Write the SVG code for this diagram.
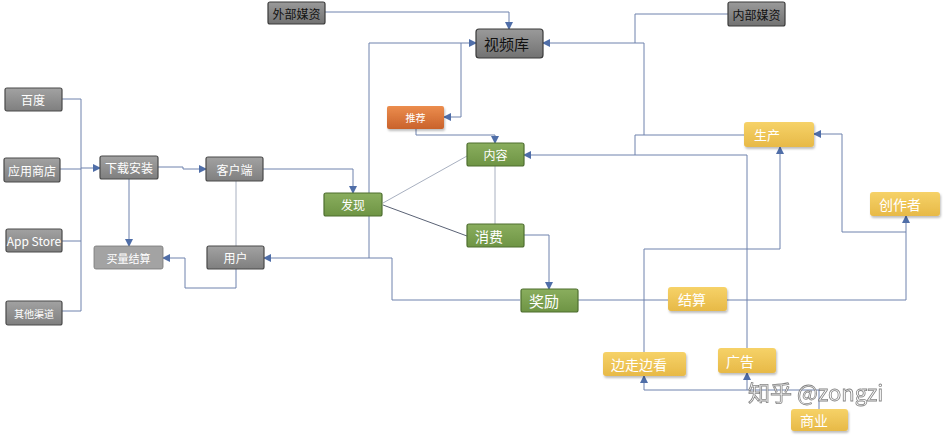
<svg xmlns="http://www.w3.org/2000/svg" width="945" height="442" viewBox="0 0 945 442">
<defs>
<linearGradient id="gGray" x1="0" y1="0" x2="0" y2="1"><stop offset="0" stop-color="#a2a2a2"/><stop offset="1" stop-color="#7f7f7f"/></linearGradient>
<linearGradient id="gDark" x1="0" y1="0" x2="0" y2="1"><stop offset="0" stop-color="#9a9a9a"/><stop offset="1" stop-color="#727272"/></linearGradient>
<linearGradient id="gGreen" x1="0" y1="0" x2="0" y2="1"><stop offset="0" stop-color="#8aae5e"/><stop offset="1" stop-color="#6e9444"/></linearGradient>
<linearGradient id="gYellow" x1="0" y1="0" x2="0" y2="1"><stop offset="0" stop-color="#f6d268"/><stop offset="1" stop-color="#e7b947"/></linearGradient>
<linearGradient id="gOrange" x1="0" y1="0" x2="0" y2="1"><stop offset="0" stop-color="#ec8d4e"/><stop offset="1" stop-color="#c9622b"/></linearGradient>
<marker id="arr" markerWidth="8" markerHeight="8" refX="7" refY="4" orient="auto" markerUnits="userSpaceOnUse"><path d="M0,0 L8,4 L0,8 z" fill="#4f6ea8"/></marker>
<filter id="sh" x="-10%" y="-10%" width="130%" height="140%"><feDropShadow dx="1" dy="2" stdDeviation="1.2" flood-color="#000" flood-opacity="0.25"/></filter>
</defs>
<style>
.gray rect{fill:url(#gGray);stroke:#4a4a4a;stroke-width:1.2}
.light rect{fill:#a3a3a3;stroke:#777;stroke-width:0.8}
.dark rect{fill:url(#gDark);stroke:#3a3a3a;stroke-width:1.2}
.green rect{fill:url(#gGreen);stroke:#4e6f2f;stroke-width:1.2}
.yellow rect{fill:url(#gYellow);filter:url(#sh)}
.orange rect{fill:url(#gOrange);filter:url(#sh)}
text{font-family:"Noto Sans CJK SC","Liberation Sans",sans-serif;fill:#fff;dominant-baseline:central}
.c{text-anchor:middle}
.blk{fill:#111}
.ln{fill:none;stroke:#6e82ad;stroke-width:1}
.lg{fill:none;stroke:#a8b0c0;stroke-width:1}
.ld{fill:none;stroke:#5a6275;stroke-width:1}
.a{marker-end:url(#arr)}
</style>
<g id="connectors">
<path class="ln" d="M62,99 H81 V311 H62"/>
<path class="ln" d="M60,169 H81"/>
<path class="ln" d="M62,241 H81"/>
<path class="ln a" d="M81,168 H100"/>
<path class="ln a" d="M158,167 H183 V169 H206"/>
<path class="ln a" d="M129,179 V246"/>
<path class="lg" d="M236,181 V246"/>
<path class="ln a" d="M236,269 V288 H185 V258 H163"/>
<path class="ln a" d="M263,169 H353 V193"/>
<path class="ln a" d="M520,300 H392 V258 H264"/>
<path class="ln a" d="M369,258 V43 H476"/>
<path class="ln a" d="M325,12 H509 V29"/>
<path class="ln a" d="M461,43 V117 H444"/>
<path class="ln a" d="M416,129 V135 H495 V143"/>
<path class="lg" d="M383,203 L467,156"/>
<path class="ld" d="M383,205 L467,236"/>
<path class="lg" d="M495,166 V224"/>
<path class="ln a" d="M524,235 H549 V289"/>
<path class="ln" d="M728,14 H635 V43"/>
<path class="ln a" d="M644,43 H543"/>
<path class="ln" d="M745,135 H644 V43"/>
<path class="ln" d="M644,135 H635 V155"/>
<path class="ln a" d="M747,348 V155 H524"/>
<path class="ln" d="M644,352 V249 H780"/>
<path class="ln a" d="M780,249 V147"/>
<path class="ln" d="M578,300 H668"/>
<path class="ln a" d="M727,300 H906 V216"/>
<path class="ln a" d="M906,232 H842 V134 H814"/>
<path class="ln" d="M819,409 V390 H644"/>
<path class="ln a" d="M644,390 V376"/>
<path class="ln a" d="M747,390 V373"/>
</g>
<g id="n-baidu" class="gray"><rect x="5" y="88" width="57" height="23" rx="2"/><text class="c" x="33" y="99.5" font-size="12">百度</text></g>
<g id="n-appshop" class="gray"><rect x="4" y="158" width="56" height="24" rx="2"/><text class="c" x="32" y="170" font-size="12">应用商店</text></g>
<g id="n-appstore" class="gray"><rect x="6" y="229" width="56" height="23" rx="2"/><text class="c" x="34" y="240.5" font-size="12">App Store</text></g>
<g id="n-other" class="gray"><rect x="6" y="301" width="56" height="24" rx="2"/><text class="c" x="34" y="313" font-size="10">其他渠道</text></g>
<g id="n-download" class="gray"><rect x="100" y="156" width="58" height="23" rx="2"/><text class="c" x="129" y="167.5" font-size="12">下载安装</text></g>
<g id="n-client" class="gray"><rect x="206" y="157" width="57" height="24" rx="2"/><text class="c" x="234.5" y="169" font-size="12">客户端</text></g>
<g id="n-buy" class="light"><rect x="94" y="246" width="69" height="23" rx="2"/><text class="c" x="128.5" y="257.5" font-size="11">买量结算</text></g>
<g id="n-user" class="gray"><rect x="207" y="246" width="57" height="23" rx="2"/><text class="c" x="235.5" y="257.5" font-size="12">用户</text></g>
<g id="n-ext" class="dark"><rect x="268" y="2" width="57" height="22" rx="2"/><text class="c blk" x="296.5" y="13" font-size="12">外部媒资</text></g>
<g id="n-lib" class="dark"><rect x="476" y="29" width="67" height="29" rx="3"/><text class="blk" x="484" y="43" font-size="15">视频库</text></g>
<g id="n-int" class="dark"><rect x="728" y="2" width="57" height="24" rx="2"/><text class="c blk" x="756.5" y="14" font-size="12">内部媒资</text></g>
<g id="n-rec" class="orange"><rect x="387" y="106" width="57" height="23" rx="2"/><text class="c" x="415.5" y="117.5" font-size="10">推荐</text></g>
<g id="n-content" class="green"><rect x="467" y="143" width="57" height="23" rx="2"/><text class="c" x="495.5" y="154.5" font-size="12">内容</text></g>
<g id="n-discover" class="green"><rect x="324" y="193" width="58" height="23" rx="2"/><text class="c" x="353" y="204.5" font-size="12">发现</text></g>
<g id="n-consume" class="green"><rect x="467" y="224" width="57" height="23" rx="2"/><text x="475" y="235.5" font-size="14">消费</text></g>
<g id="n-reward" class="green"><rect x="521" y="289" width="57" height="23" rx="2"/><text x="529" y="300.5" font-size="15">奖励</text></g>
<g id="n-produce" class="yellow"><rect x="744" y="122" width="70" height="25" rx="3"/><text x="754" y="134.5" font-size="13">生产</text></g>
<g id="n-creator" class="yellow"><rect x="870" y="192" width="70" height="24" rx="3"/><text x="879" y="204" font-size="14">创作者</text></g>
<g id="n-settle" class="yellow"><rect x="668" y="287" width="59" height="24" rx="3"/><text x="678" y="299" font-size="14">结算</text></g>
<g id="n-walk" class="yellow"><rect x="603" y="352" width="83" height="24" rx="3"/><text x="611" y="364" font-size="14">边走边看</text></g>
<g id="n-ad" class="yellow"><rect x="718" y="348" width="58" height="25" rx="3"/><text x="726" y="360.5" font-size="14">广告</text></g>
<g id="n-biz" class="yellow"><rect x="791" y="409" width="57" height="22" rx="3"/><text x="800" y="420" font-size="14">商业</text></g>
<text x="748" y="391" font-size="22" style="fill:#fff;stroke:#777;stroke-width:0.8;opacity:0.9">知乎 @zongzi</text>
</svg>
